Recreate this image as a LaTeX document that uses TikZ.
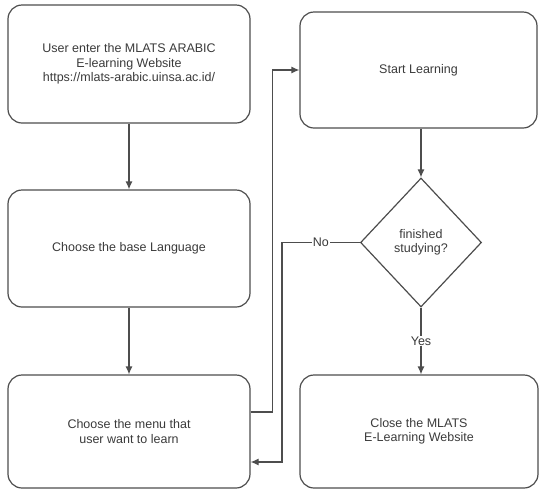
\documentclass[tikz,border=0pt]{standalone}
\usepackage{fontspec}
\setmainfont{Liberation Sans}
\usepackage{tikz}
\usetikzlibrary{shapes.geometric, arrows.meta}
\definecolor{lineGray}{HTML}{4D4D4D}
\definecolor{textGray}{HTML}{3A3A3A}

\begin{document}
\begin{tikzpicture}[>={Latex[length=8pt, width=7pt]}, x=1pt, y=-1pt,
    stepbox/.style={draw=lineGray, line width=1.2pt, rounded corners=14pt, align=center,
        text=textGray, font=\fontsize{12.5}{14.5}\selectfont, inner sep=0pt},
    decision/.style={draw=lineGray, line width=1.2pt, diamond, inner sep=0pt, align=center,
        minimum width=121pt, minimum height=129pt, text=textGray, font=\fontsize{12.5}{14.5}\selectfont},
    flow/.style={draw=lineGray, line width=1.2pt},
    lbl/.style={fill=white, text=textGray, font=\fontsize{12.5}{14}\selectfont, inner sep=1pt}]

    \useasboundingbox (0,0) rectangle (539,491);

    \draw(129,64) node[stepbox, minimum width=242pt, minimum height=118pt] (enter)
        {User enter the MLATS ARABIC\\E-learning Website\\https://mlats-arabic.uinsa.ac.id/};
    \draw(129,248.5) node[stepbox, minimum width=242pt, minimum height=117pt] (lang)
        {Choose the base Language};
    \draw(129,431.5) node[stepbox, minimum width=242pt, minimum height=113pt] (menu)
        {Choose the menu that\\user want to learn};

    \draw(418.5,70) node[stepbox, minimum width=237pt, minimum height=116pt] (start)
        {Start Learning};
    \draw(421,242.5) node[decision] (done) {finished\\studying?};
    \draw(419,431.5) node[stepbox, minimum width=238pt, minimum height=113pt] (close)
        {Close the MLATS\\E-Learning Website};

    \draw[flow, ->] (enter) -- (lang);
    \draw[flow, ->] (lang) -- (menu);
    \draw[flow, ->] ([yshift=19.5pt]menu.east) -- ++(22,0) |- (start.west);
    \draw[flow, ->] (start.south -| done.north) -- (done.north);
    \draw[flow, ->] (done.west) -- ++(-78,0) node[midway, lbl] {No} |- ([yshift=-30.5pt]menu.east);
    \draw[flow, ->] (done.south) -- node[lbl] {Yes} (done.south |- close.north);

\end{tikzpicture}
\end{document}
